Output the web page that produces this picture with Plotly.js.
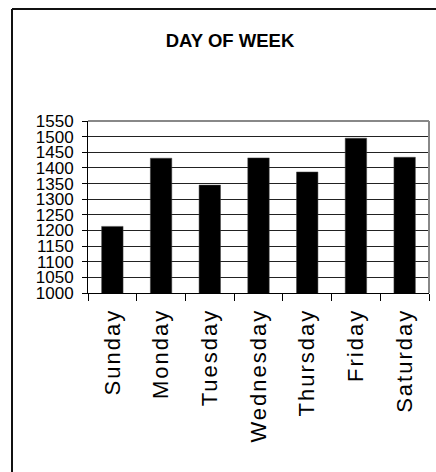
<!DOCTYPE html>
<html>
<head>
<meta charset="utf-8">
<script src="https://cdn.plot.ly/plotly-3.0.1.min.js"></script>
<style>
  html, body { margin: 0; padding: 0; background: #fff; }
  #chart { width: 436px; height: 472px; }
  .xtick text { letter-spacing: 2px; }
</style>
</head>
<body>
<div id="chart"></div>
<script>
const days = ["Sunday", "Monday", "Tuesday", "Wednesday", "Thursday", "Friday", "Saturday"];
const counts = [1213, 1431, 1345, 1432, 1387, 1495, 1434];
const yMin = 1000;
const yMax = 1550;
const yStep = 50;
const chartTitle = "DAY OF WEEK";

const L = 88, R = 7, T = 121, B = 179;
const W = 436, H = 472;
const pw = W - L - R, ph = H - T - B;
const px = v => (v - L) / pw;
const py = v => (H - B - v) / ph;

const trace = {
  type: "bar",
  x: days,
  y: counts,
  marker: { color: "#000000", line: { color: "#444", width: 0.5 } },
  hoverinfo: "x+y"
};

const layout = {
  width: W,
  height: H,
  margin: { l: L, r: R, t: T, b: B },
  paper_bgcolor: "#ffffff",
  plot_bgcolor: "#ffffff",
  showlegend: false,
  bargap: 0.56,
  title: {
    text: "<b>" + chartTitle + "</b>",
    font: { family: "Liberation Sans, Arial, sans-serif", size: 18.5, color: "#000" },
    xref: "container", x: 230 / W, xanchor: "center",
    yref: "container", y: 1 - 41 / H, yanchor: "middle"
  },
  xaxis: {
    type: "category",
    tickangle: -90,
    tickson: "boundaries",
    ticks: "outside",
    ticklen: 7,
    tickcolor: "#000",
    tickwidth: 1,
    ticklabelstandoff: 6,
    showline: true,
    linecolor: "#000",
    linewidth: 1,
    showgrid: false,
    tickfont: { family: "Liberation Sans, Arial, sans-serif", size: 22, color: "#000" },
    fixedrange: true
  },
  yaxis: {
    range: [yMin, yMax],
    tick0: yMin,
    dtick: yStep,
    ticks: "outside",
    ticklen: 5,
    tickcolor: "#000",
    ticklabelstandoff: 5,
    showline: true,
    linecolor: "#000",
    linewidth: 1,
    showgrid: true,
    gridcolor: "#222",
    gridwidth: 1,
    zeroline: false,
    tickfont: { family: "Liberation Sans, Arial, sans-serif", size: 17, color: "#000" },
    fixedrange: true
  },
  shapes: [
    { type: "line", xref: "paper", yref: "paper", x0: 0, x1: 1, y0: 1, y1: 1, line: { color: "#888", width: 2 } },
    { type: "line", xref: "paper", yref: "paper", x0: 1, x1: 1, y0: 0, y1: 1, line: { color: "#888", width: 2 } },
    { type: "line", xref: "paper", yref: "paper", x0: px(12), x1: px(W + 5), y0: py(9), y1: py(9), line: { color: "#111", width: 2 } },
    { type: "line", xref: "paper", yref: "paper", x0: px(12), x1: px(12), y0: py(9), y1: py(H + 5), line: { color: "#111", width: 2 } }
  ]
};

Plotly.newPlot("chart", [trace], layout, { displayModeBar: false, staticPlot: true });
</script>
</body>
</html>
